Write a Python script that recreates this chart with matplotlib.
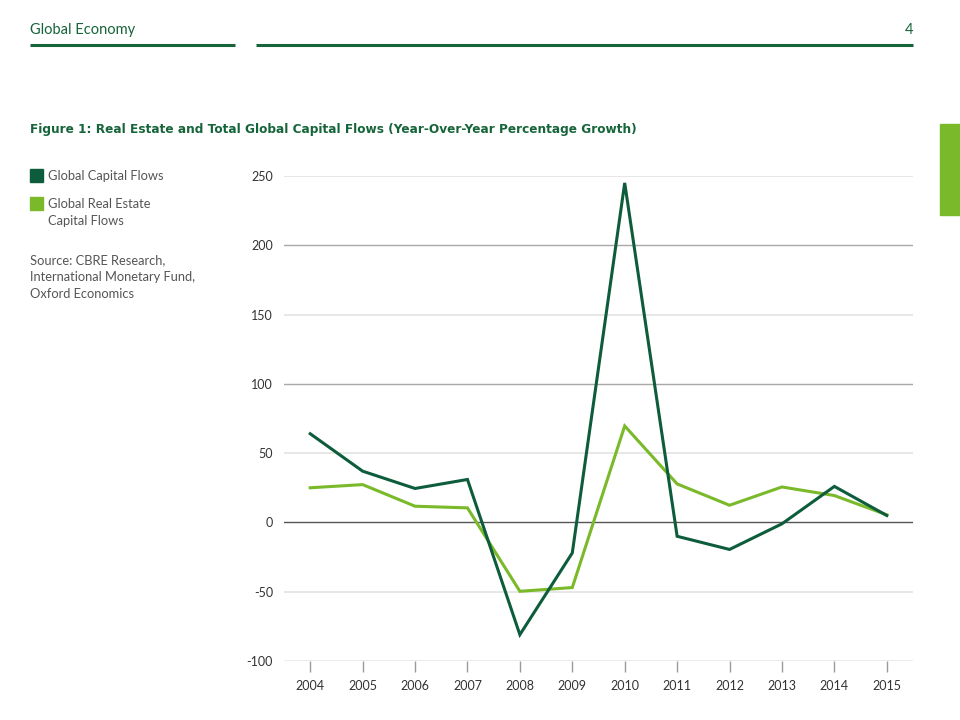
import numpy as np
import matplotlib
matplotlib.use('Agg')
import matplotlib.pyplot as plt
from matplotlib.patches import Rectangle
from matplotlib.lines import Line2D

plt.rcParams['font.family'] = ['Lato', 'DejaVu Sans']

years = [2004, 2005, 2006, 2007, 2008, 2009, 2010, 2011, 2012, 2013, 2014, 2015]
capital_flows = [64, 37, 24.5, 31, -81, -22, 245, -10, -19.5, -1, 26, 5]
real_estate_flows = [25, 27.3, 11.7, 10.5, -49.7, -47, 69.6, 27.8, 12.4, 25.6, 19.4, 5.5]
yticks = [-100, -50, 0, 50, 100, 150, 200, 250]

DARK = '#0d5c3b'
LIGHT = '#7ab929'
HEAD = '#16643a'
W, H = 960, 720

def fx(px):
    return px / W

def fy(py):
    return 1 - py / H

fig = plt.figure(figsize=(9.6, 7.2), dpi=100)

# page header
fig.text(fx(30), fy(30), 'Global Economy', color=HEAD, fontsize=10.5, va='center', ha='left')
fig.text(fx(913), fy(30), '4', color=HEAD, fontsize=10.5, va='center', ha='right')
fig.add_artist(Line2D([fx(30), fx(235)], [fy(45), fy(45)], color=HEAD, lw=2.2, solid_capstyle='butt'))
fig.add_artist(Line2D([fx(256), fx(913)], [fy(45), fy(45)], color=HEAD, lw=2.2, solid_capstyle='butt'))
fig.add_artist(Rectangle((fx(940), fy(215)), fx(20), 91 / H, color=LIGHT, transform=fig.transFigure))

fig.text(fx(30), fy(130), 'Figure 1: Real Estate and Total Global Capital Flows (Year-Over-Year Percentage Growth)',
         color=HEAD, fontsize=8.75, fontweight='bold', va='center', ha='left', family='DejaVu Sans')

# legend + source
fig.add_artist(Rectangle((fx(30), fy(182)), fx(13), 13 / H, color=DARK, transform=fig.transFigure))
fig.add_artist(Rectangle((fx(30), fy(210)), fx(13), 13 / H, color=LIGHT, transform=fig.transFigure))
fig.text(fx(48), fy(176), 'Global Capital Flows', color='#555555', fontsize=9.3, va='center')
fig.text(fx(48), fy(212), 'Global Real Estate\nCapital Flows', color='#555555', fontsize=9.3, va='center',
         linespacing=1.5)
fig.text(fx(30), fy(277), 'Source: CBRE Research,\nInternational Monetary Fund,\nOxford Economics',
         color='#555555', fontsize=9.3, va='center', linespacing=1.5)

ax = fig.add_axes([fx(284), fy(661), fx(629), 485 / H])
ax.set_xlim(2003.5, 2015.5)
ax.set_ylim(-100, 250)

for v in yticks:
    if v == 0:
        c, lw = '#555555', 1.0
    elif v == -100:
        c, lw = '#9a9a9a', 1.0
    elif v % 100 == 0:
        c, lw = '#a8a8a8', 1.0
    else:
        c, lw = '#e3e3e3', 1.2
    ax.axhline(v, color=c, lw=lw, zorder=1)

ax.plot(years, real_estate_flows, color=LIGHT, lw=2.2, zorder=3, solid_joinstyle='miter')
ax.plot(years, capital_flows, color=DARK, lw=2.2, zorder=4, solid_joinstyle='miter')

for s in ax.spines.values():
    s.set_visible(False)
ax.set_yticks(yticks)
ax.set_yticklabels([str(v) for v in yticks])
ax.set_xticks(years)
ax.set_xticklabels([str(y) for y in years])
ax.tick_params(axis='y', length=0, pad=8, labelsize=9, labelcolor='#333333')
ax.tick_params(axis='x', length=8, width=1, color='#9a9a9a', pad=6, labelsize=9, labelcolor='#333333')

fig.savefig('out.png', dpi=100)
